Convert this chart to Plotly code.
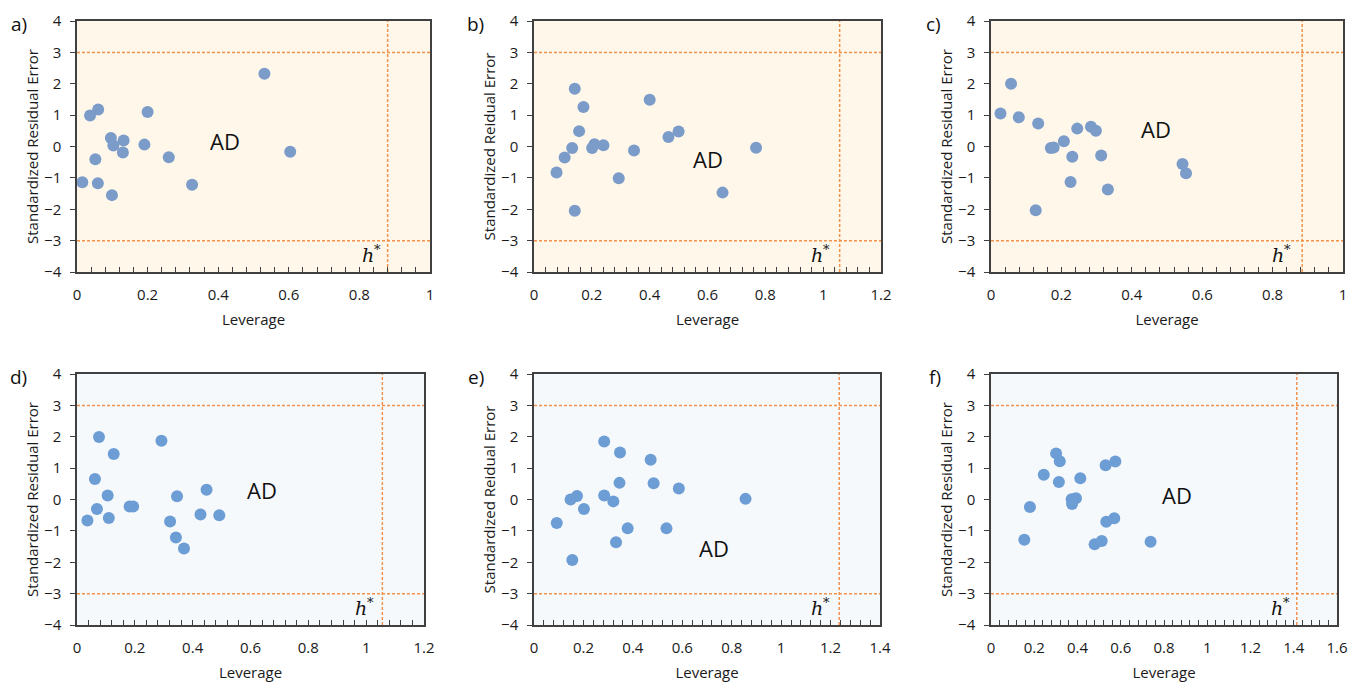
import plotly.graph_objects as go

# ---------------- data ----------------
a_lev = [0.531, 0.060, 0.037, 0.200, 0.096, 0.103, 0.132, 0.130, 0.191, 0.604, 0.052, 0.260, 0.015, 0.059, 0.099, 0.326]
a_res = [2.32, 1.18, 0.99, 1.10, 0.27, 0.03, 0.19, -0.19, 0.06, -0.17, -0.41, -0.34, -1.14, -1.17, -1.55, -1.22]

b_lev = [0.141, 0.171, 0.400, 0.156, 0.500, 0.465, 0.132, 0.209, 0.201, 0.240, 0.346, 0.768, 0.106, 0.078, 0.293, 0.652, 0.141]
b_res = [1.84, 1.26, 1.49, 0.49, 0.48, 0.30, -0.05, 0.07, -0.05, 0.04, -0.13, -0.04, -0.35, -0.83, -1.01, -1.47, -2.05]

c_lev = [0.057, 0.027, 0.079, 0.134, 0.245, 0.284, 0.298, 0.207, 0.170, 0.178, 0.231, 0.313, 0.544, 0.554, 0.226, 0.332, 0.127]
c_res = [2.00, 1.05, 0.93, 0.73, 0.57, 0.63, 0.50, 0.17, -0.05, -0.03, -0.33, -0.29, -0.56, -0.85, -1.13, -1.37, -2.03]

d_lev = [0.076, 0.127, 0.292, 0.062, 0.106, 0.346, 0.448, 0.069, 0.036, 0.110, 0.182, 0.194, 0.322, 0.427, 0.492, 0.342, 0.370]
d_res = [1.99, 1.45, 1.87, 0.65, 0.13, 0.10, 0.31, -0.30, -0.67, -0.59, -0.22, -0.22, -0.70, -0.48, -0.50, -1.21, -1.56]

e_lev = [0.284, 0.348, 0.472, 0.346, 0.484, 0.586, 0.148, 0.174, 0.284, 0.321, 0.856, 0.202, 0.092, 0.379, 0.536, 0.332, 0.155]
e_res = [1.85, 1.50, 1.27, 0.53, 0.52, 0.35, 0.00, 0.11, 0.13, -0.06, 0.02, -0.30, -0.75, -0.92, -0.92, -1.36, -1.93]

f_lev = [0.301, 0.318, 0.530, 0.575, 0.244, 0.314, 0.413, 0.373, 0.393, 0.375, 0.180, 0.533, 0.570, 0.154, 0.479, 0.512, 0.738]
f_res = [1.47, 1.22, 1.09, 1.21, 0.79, 0.56, 0.68, 0.01, 0.04, -0.14, -0.24, -0.71, -0.60, -1.28, -1.43, -1.32, -1.35]

h_star = [0.88, 1.057, 0.884, 1.056, 1.235, 1.414]
x_max = [1.0, 1.2, 1.0, 1.2, 1.4, 1.6]
panel_labels = ["a)", "b)", "c)", "d)", "e)", "f)"]
x_title = "Leverage"
y_titles = ["Standardized Residual Error", "Standardized Reidual Error", "Standardized Residual Error",
            "Standardized Residual Error", "Standardized Reidual Error", "Standardized Residual Error"]
ad_pos = [(0.42, 0.19), (0.60, -0.39), (0.47, 0.57), (0.64, 0.29), (0.73, -1.54), (0.862, 0.15)]
h_label_x = [0.837, 0.993, 0.828, 0.995, 1.16, 1.34]

levs = [a_lev, b_lev, c_lev, d_lev, e_lev, f_lev]
ress = [a_res, b_res, c_res, d_res, e_res, f_res]

# ---------------- layout ----------------
W, H = 1349, 682
x_dom_px = [(77, 430), (534, 881), (991, 1343), (77, 424), (534, 880), (991, 1337)]
y_dom_px = [(21, 272)] * 3 + [(374, 625)] * 3
bg = ["#FEF7EA"] * 3 + ["#F6F9FC"] * 3
mk = ["#7B9BC9"] * 3 + ["#6C9DD5"] * 3
ORANGE = "#F3924A"
FONT = "Open Sans"
TXT = "#1a1a1a"

fig = go.Figure()
shapes = []
annotations = []

for i in range(6):
    n = "" if i == 0 else str(i + 1)
    xd = [x_dom_px[i][0] / W, x_dom_px[i][1] / W]
    yd = [1 - y_dom_px[i][1] / H, 1 - y_dom_px[i][0] / H]
    fig.add_trace(go.Scatter(
        x=levs[i], y=ress[i], mode="markers",
        marker=dict(size=12, color=mk[i]),
        xaxis="x" + n, yaxis="y" + n, showlegend=False, hoverinfo="x+y"))
    fig.update_layout({
        "xaxis" + n: dict(domain=xd, anchor="y" + n, range=[0, x_max[i]], dtick=0.2,
                          showgrid=False, zeroline=False, showline=True, mirror=True,
                          linecolor="#404040", linewidth=1.5, automargin=False,
                          ticks="inside", ticklen=5, tickwidth=1.2, tickcolor="#404040",
                          ticklabelstandoff=8,
                          minor=dict(dtick=0.04, ticks="inside", ticklen=5, tickwidth=1.2,
                                     tickcolor="#404040", showgrid=False),
                          title=dict(text=x_title, standoff=12,
                                     font=dict(family=FONT, size=15, color=TXT)),
                          tickfont=dict(family=FONT, size=15, color=TXT), fixedrange=True),
        "yaxis" + n: dict(domain=yd, anchor="x" + n, range=[-4, 4], dtick=1,
                          showgrid=False, zeroline=False, showline=True, mirror=True,
                          linecolor="#404040", linewidth=1.5, automargin=False,
                          ticks="outside", ticklen=5, tickwidth=1.2, tickcolor="#404040",
                          ticklabelstandoff=6,
                          title=dict(text=y_titles[i], standoff=2,
                                     font=dict(family=FONT, size=15, color=TXT)),
                          tickfont=dict(family=FONT, size=15, color=TXT), fixedrange=True),
    })
    # background
    shapes.append(dict(type="rect", xref="x" + n + " domain", yref="y" + n + " domain",
                       x0=0, x1=1, y0=0, y1=1, fillcolor=bg[i], line=dict(width=0), layer="below"))
    # limit lines
    for yy in (3, -3):
        shapes.append(dict(type="line", xref="x" + n + " domain", yref="y" + n,
                           x0=0, x1=1, y0=yy, y1=yy,
                           line=dict(color=ORANGE, width=1.5, dash="3px,2px"), layer="below"))
    shapes.append(dict(type="line", xref="x" + n, yref="y" + n + " domain",
                       x0=h_star[i], x1=h_star[i], y0=0, y1=1,
                       line=dict(color=ORANGE, width=1.5, dash="3px,2px"), layer="below"))
    # AD label
    annotations.append(dict(x=ad_pos[i][0], y=ad_pos[i][1], xref="x" + n, yref="y" + n,
                            text="AD", showarrow=False, font=dict(family=FONT, size=22, color="#111")))
    # h* label (italic h plus small raised asterisk)
    annotations.append(dict(x=h_label_x[i], y=-3.46, xref="x" + n, yref="y" + n,
                            text="<i>h</i>", showarrow=False, xanchor="right", xshift=4,
                            font=dict(family="DejaVu Serif", size=19, color="#111")))
    annotations.append(dict(x=h_label_x[i], y=-3.46, xref="x" + n, yref="y" + n,
                            text="*", showarrow=False, xanchor="left", xshift=0, yshift=6,
                            font=dict(family="DejaVu Serif", size=13, color="#111")))
    # panel label
    annotations.append(dict(x=(x_dom_px[i][0] - 48) / W, y=1 - (y_dom_px[i][0] + 3) / H,
                            xref="paper", yref="paper", text=panel_labels[i], showarrow=False,
                            xanchor="right", yanchor="middle",
                            font=dict(family=FONT, size=19, color="#111")))

fig.update_layout(width=W, height=H, margin=dict(l=0, r=0, t=0, b=0),
                  paper_bgcolor="white", plot_bgcolor="rgba(0,0,0,0)",
                  shapes=shapes, annotations=annotations)

fig.write_html("out.html")
